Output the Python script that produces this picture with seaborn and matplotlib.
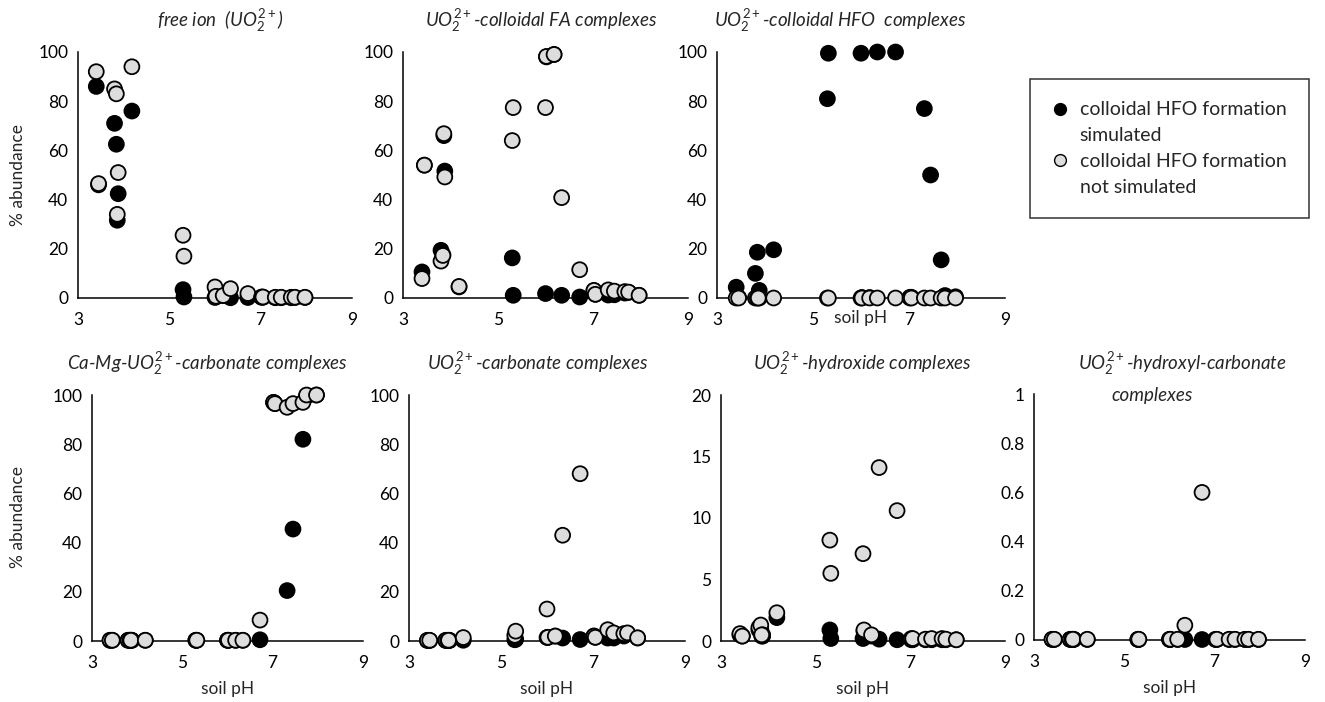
#!/usr/bin/env python3
"""Uranyl speciation in soils vs soil pH, with and without colloidal HFO formation."""
import matplotlib

matplotlib.use("Agg")
import matplotlib.pyplot as plt
import pandas as pd
import seaborn as sns
from matplotlib.lines import Line2D
from matplotlib.ticker import FuncFormatter

W, H = 1325, 702

# soil pH of each sample (same soils in both model runs)
SOIL_PH = [3.40, 3.45, 3.80, 3.84, 3.88, 3.86, 4.18, 5.30, 5.32, 6.00, 6.02,
           6.18, 6.34, 6.72, 7.02, 7.05, 7.32, 7.45, 7.67, 7.75, 7.97]

# % abundance, colloidal HFO formation simulated
FREE_SIM = [86, 46, 71, 62.5, 42.4, 31.6, 76, 3.4, 0.4, 0.2, 0.6,
            1, 0.1, 0.2, 0.3, 0.3, 0.1, 0.1, 0.1, 0.2, 0.2]
FA_SIM = [10.6, 54, 19.4, 17.5, 51.6, 66, 4.5, 16.3, 1.1, 1.8, 98,
          99, 1.1, 0.4, 3, 1.5, 1.2, 1.3, 2, 2.3, 1.1]
HFO_SIM = [4.4, 0.2, 10, 18.6, 3.1, 0.2, 19.6, 81, 99.5, 99.5, 0.2,
           0.2, 100, 100, 0.3, 0.3, 77, 50, 15.5, 1, 0.5]
CAMG_SIM = [0.3, 0.3, 0.3, 0.3, 0.3, 0.3, 0.3, 0.3, 0.3, 0.3, 0.3,
            0.3, 0.3, 0.5, 97, 96.5, 20.5, 45.5, 82, 99.5, 100]
CARB_SIM = [0.2, 0.2, 0.2, 0.2, 0.2, 0.2, 0.3, 0.5, 0.7, 1.4, 1.5,
            2, 1.2, 0.6, 2, 1.5, 1.2, 1.2, 2, 3, 1.2]
HYD_SIM = [0.5, 0.4, 0.9, 1.0, 0.4, 0.4, 1.9, 0.9, 0.2, 0.2, 0.8,
           0.4, 0.15, 0.1, 0.1, 0.1, 0.1, 0.1, 0.1, 0.1, 0.1]
HCARB_SIM = [0.002] * 21

# % abundance, colloidal HFO formation not simulated
FREE_NOSIM = [92, 46.5, 85, 83, 51, 34, 94, 25.5, 17, 4.5, 0.7,
              1, 3.8, 1.8, 0.4, 0.4, 0.3, 0.3, 0.3, 0.3, 0.3]
FA_NOSIM = [7.9, 54, 15, 17.3, 49.2, 66.8, 4.7, 64, 77.4, 77.4, 98.2,
            99, 40.8, 11.5, 3.1, 1.5, 3.3, 2.8, 2.6, 2.4, 1.1]
HFO_NOSIM = [0] * 21
CAMG_NOSIM = [0.3, 0.3, 0.3, 0.3, 0.3, 0.3, 0.3, 0.3, 0.3, 0.3, 0.3,
              0.3, 0.3, 8.5, 97, 96.5, 95, 96.5, 97, 100, 100]
CARB_NOSIM = [0.3, 0.3, 0.3, 0.3, 0.3, 0.3, 1.4, 2.3, 4, 13, 1.5,
              2, 43, 68, 2, 1.5, 4.6, 3.3, 3.0, 3.3, 1.3]
HYD_NOSIM = [0.6, 0.4, 1.1, 1.3, 0.5, 0.5, 2.3, 8.2, 5.5, 7.1, 0.9,
             0.5, 14.1, 10.6, 0.2, 0.2, 0.15, 0.2, 0.2, 0.15, 0.1]
HCARB_NOSIM = [0.003] * 12 + [0.06, 0.6] + [0.003] * 7

CONDITIONS = ["colloidal HFO formation\nsimulated",
              "colloidal HFO formation\nnot simulated"]
COLORS = ["black", "#DDDDDD"]

UO2 = r"$\mathit{UO}_{\mathit{2}}^{\mathit{2+}}$"
TITLES = {
    "free": "free ion  (" + UO2 + ")",
    "fa": UO2 + "-colloidal FA complexes",
    "hfo": UO2 + "-colloidal HFO  complexes",
    "camg": "Ca-Mg-" + UO2 + "-carbonate complexes",
    "carb": UO2 + "-carbonate complexes",
    "hyd": UO2 + "-hydroxide complexes",
    "hcarb": UO2 + "-hydroxyl-carbonate",
}

# panel layout in pixels: left, right, top, bottom, title centre x/y, ymax
PANELS = {
    "free": (78, 352, 52, 298, 220, 21, 100),
    "fa": (403, 688, 52, 298, 541, 21, 100),
    "hfo": (717, 1005, 52, 298, 840, 21, 100),
    "camg": (92, 363, 395, 641, 207, 364, 100),
    "carb": (409, 685, 395, 641, 538, 364, 100),
    "hyd": (721, 1005, 395, 641, 862, 364, 20),
    "hcarb": (1034, 1305, 394, 640, 1182, 364, 1),
}

FS = 12.5
FS_TITLE = 13.5
FS_LEGEND = 14


def build_frame() -> pd.DataFrame:
    series = {
        "free": (FREE_SIM, FREE_NOSIM),
        "fa": (FA_SIM, FA_NOSIM),
        "hfo": (HFO_SIM, HFO_NOSIM),
        "camg": (CAMG_SIM, CAMG_NOSIM),
        "carb": (CARB_SIM, CARB_NOSIM),
        "hyd": (HYD_SIM, HYD_NOSIM),
        "hcarb": (HCARB_SIM, HCARB_NOSIM),
    }
    rows = []
    for key, (sim, nosim) in series.items():
        # simulated first so the grey points are drawn on top
        for cond, vals in zip(CONDITIONS, (sim, nosim)):
            for ph, v in zip(SOIL_PH, vals):
                rows.append({"species": key, "condition": cond, "pH": ph, "value": v})
    return pd.DataFrame(rows)


def main():
    sns.set_style("white")
    plt.rcParams["font.family"] = ["Lato", "DejaVu Sans"]
    plt.rcParams["mathtext.fontset"] = "custom"
    plt.rcParams["mathtext.it"] = "Lato:italic"
    plt.rcParams["mathtext.rm"] = "Lato"
    plt.rcParams["mathtext.bf"] = "Lato:bold"

    df = build_frame()
    fig = plt.figure(figsize=(W / 100, H / 100), dpi=100)

    for key, (l, r, t, b, tx, ty, ymax) in PANELS.items():
        ax = fig.add_axes([l / W, 1 - b / H, (r - l) / W, (b - t) / H])
        sub = df[df["species"] == key]
        sns.scatterplot(
            data=sub, x="pH", y="value", hue="condition", hue_order=CONDITIONS,
            palette=COLORS, s=115, edgecolor="black", linewidth=1.3,
            legend=False, ax=ax, clip_on=False, zorder=3,
        )
        ax.set_xlim(3, 9)
        ax.set_ylim(0, ymax)
        ax.set_xticks([3, 5, 7, 9])
        ax.set_yticks([ymax * f for f in (0, 0.2, 0.4, 0.6, 0.8, 1.0)] if ymax != 20
                      else [0, 5, 10, 15, 20])
        ax.yaxis.set_major_formatter(FuncFormatter(lambda v, _: f"{v:g}"))
        for side in ("top", "right"):
            ax.spines[side].set_visible(False)
        for side in ("left", "bottom"):
            ax.spines[side].set_color("black")
            ax.spines[side].set_linewidth(1.1)
        ax.tick_params(axis="both", direction="out", length=5, width=1.1,
                       color="black", labelsize=FS, labelcolor="black")
        ax.tick_params(axis="y", pad=2)
        ax.tick_params(axis="x", pad=5)
        ax.set_ylabel("")
        ax.set_xlabel("")
        if key == "hfo":
            ax.set_xlabel("soil pH", fontsize=FS)
            ax.xaxis.set_label_coords(0.5, -0.05)
        elif t > 300:
            ax.set_xlabel("soil pH", fontsize=FS)
            ax.xaxis.set_label_coords(0.5, -0.163)

        fig.text(tx / W, 1 - ty / H, TITLES[key], ha="center", va="center",
                 style="italic", fontsize=FS_TITLE)

    fig.text(1152 / W, 1 - 395 / H, "complexes", ha="center", va="center",
             style="italic", fontsize=FS_TITLE)

    for y in (175, 517):
        fig.text(18 / W, 1 - y / H, "% abundance", rotation=90,
                 ha="center", va="center", fontsize=FS)

    # one row per text line so each marker sits on the first line of its label
    handles, labels = [], []
    for cond, c in zip(CONDITIONS, COLORS):
        first, second = cond.split("\n")
        handles.append(Line2D([], [], ls="none", marker="o", markersize=8.5,
                              markerfacecolor=c, markeredgecolor="black",
                              markeredgewidth=1.0))
        labels.append(first)
        handles.append(Line2D([], [], ls="none", marker=None))
        labels.append(second)
    leg = fig.legend(handles, labels, loc="upper left",
                     bbox_to_anchor=(1030 / W, 1 - 79 / H), frameon=True,
                     fancybox=False, edgecolor="black", fontsize=FS_LEGEND,
                     handlelength=0.8, handletextpad=0.6, borderpad=1.15,
                     labelspacing=0.45, borderaxespad=0)
    leg.get_frame().set_linewidth(1.1)

    fig.savefig("out.png", dpi=100)
    plt.close(fig)


if __name__ == "__main__":
    main()
